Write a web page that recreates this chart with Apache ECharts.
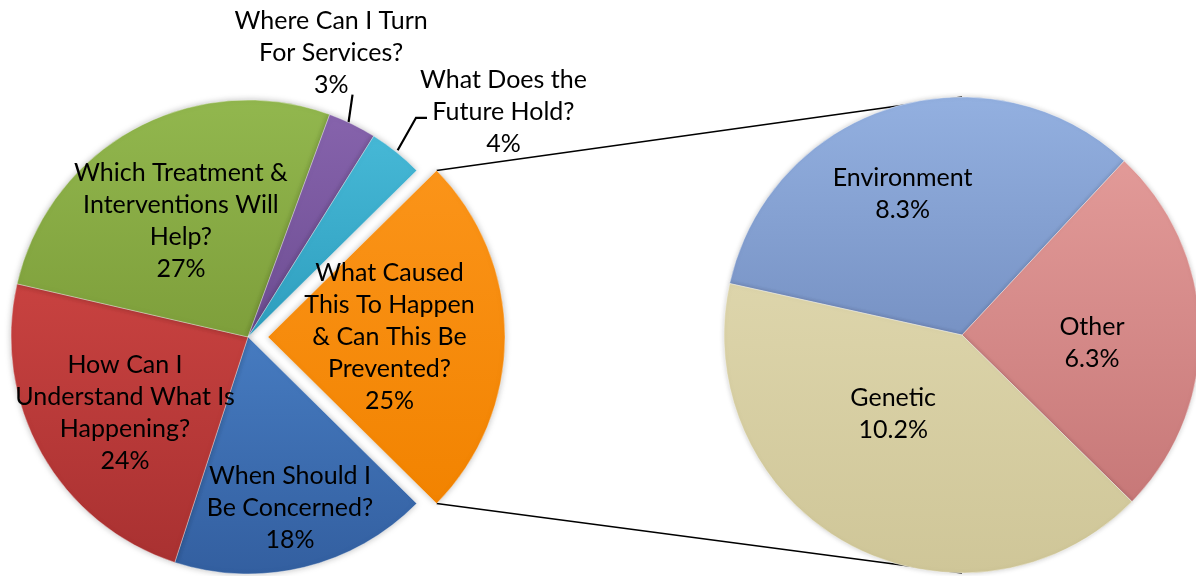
<!DOCTYPE html>
<html><head><meta charset="utf-8">
<script src="https://cdn.jsdelivr.net/npm/echarts@6/dist/echarts.min.js"></script>
<style>html,body{margin:0;padding:0;background:#fff}#c{width:1196px;height:576px}</style>
</head><body><div id="c"></div>
<script>
// ---- data ----
const mainCategories = [
  'What Caused\nThis To Happen\n& Can This Be\nPrevented?',
  'When Should I\nBe Concerned?',
  'How Can I\nUnderstand What Is\nHappening?',
  'Which Treatment &\nInterventions Will\nHelp?',
  'Where Can I Turn\nFor Services?',
  'What Does the\nFuture Hold?'
];
const mainValues = [24.8, 17.6, 23.6, 27.0, 3.3, 3.7];
const subCategories = ['Environment', 'Other', 'Genetic'];
const subValues = [8.3, 6.3, 10.2];

// ---- styling / layout ----
const FONT = 'Lato, "Open Sans", sans-serif';
const L = { cx: 248, cy: 337, r: 237, explode: 20 };
const R = { cx: 962, cy: 335, r: 238, start: 167.5 };
const mainColors = [
  ['#FB9419', '#F28300'], ['#467BC0', '#335FA0'], ['#C84240', '#A93131'],
  ['#92B74E', '#7E9F3B'], ['#8663AC', '#6D4D92'], ['#46B8D6', '#2E9EBE']
];
const subColors = [['#93B0E0', '#7792C4'], ['#E29A98', '#C77878'], ['#DDD5AB', '#CFC698']];
// label placement: [angle shift from slice middle (deg), distance as fraction of radius]
const mainLabelPlace = [[-3.3, 0.59], [0.1, 0.743], [2.2, 0.61], [1.5, 0.567], [9.8, 1.25], [-9.9, 1.437]];
const subLabelPlace = [[5.5, 0.645], [-4.6, 0.547], [-12.6, 0.44]];
const outsideIdx = [4, 5];

function sum(a) { return a.reduce((s, v) => s + v, 0); }
const mainStart = mainValues[0] / sum(mainValues) * 180;
function midAngle(vals, start, i) {
  const t = sum(vals); let a = start;
  for (let k = 0; k < i; k++) a -= vals[k] / t * 360;
  return a - vals[i] / t * 180;
}
function polar(cx, cy, ang, d) {
  const rad = ang * Math.PI / 180;
  return [cx + d * Math.cos(rad), cy - d * Math.sin(rad)];
}
function grad(c) {
  return { type: 'linear', x: 0, y: 0, x2: 0, y2: 1, colorStops: [{ offset: 0, color: c[0] }, { offset: 1, color: c[1] }] };
}
const labelBase = { color: '#000', fontFamily: FONT, fontSize: 25, lineHeight: 32, align: 'center' };
const leaderStyle = { color: '#000', width: 2.2 };

const chart = echarts.init(document.getElementById('c'), null, { renderer: 'canvas' });

const mainData = mainCategories.map((n, i) => {
  const d = { name: n, value: mainValues[i], itemStyle: { color: grad(mainColors[i]) } };
  if (i === 0) d.selected = true;
  if (outsideIdx.includes(i)) {
    d.label = { position: 'outside' };
    d.labelLine = { show: true, length: 10, length2: 10, lineStyle: leaderStyle };
  }
  return d;
});
const subData = subCategories.map((n, i) => ({ name: n, value: subValues[i], itemStyle: { color: grad(subColors[i]) } }));

// connector lines from exploded slice corners to second pie top/bottom
const exC = polar(L.cx, L.cy, 0, L.explode);
const topCorner = polar(exC[0], exC[1], mainStart, L.r);
const botCorner = polar(exC[0], exC[1], -mainStart, L.r);

chart.setOption({
  animation: false,
  backgroundColor: '#fff',
  graphic: [
    { type: 'line', z: 1, shape: { x1: topCorner[0], y1: topCorner[1], x2: R.cx, y2: R.cy - R.r }, style: { stroke: '#000', lineWidth: 1.6 } },
    { type: 'line', z: 1, shape: { x1: botCorner[0], y1: botCorner[1], x2: R.cx, y2: R.cy + R.r }, style: { stroke: '#000', lineWidth: 1.6 } }
  ],
  series: [
    {
      type: 'pie', z: 3,
      center: [L.cx, L.cy], radius: L.r,
      startAngle: mainStart, clockwise: true,
      selectedMode: 'single', selectedOffset: L.explode,
      avoidLabelOverlap: false,
      itemStyle: { borderColor: 'rgba(255,255,255,0.35)', borderWidth: 1, shadowBlur: 6, shadowColor: 'rgba(0,0,0,0.25)' },
      emphasis: { disabled: true },
      label: Object.assign({ position: 'inside', formatter: p => p.name + '\n' + Math.round(p.percent) + '%' }, labelBase),
      labelLine: { show: false, lineStyle: leaderStyle },
      labelLayout: function (p) {
        const i = p.dataIndex;
        const m = midAngle(mainValues, mainStart, i);
        const c = i === 0 ? exC : [L.cx, L.cy];
        const pos = polar(c[0], c[1], m + mainLabelPlace[i][0], L.r * mainLabelPlace[i][1]);
        const out = { x: pos[0], y: pos[1], align: 'center', verticalAlign: 'middle' };
        const w = p.labelRect.width, h = p.labelRect.height;
        if (i === 4) {
          const e = polar(L.cx, L.cy, m + 1, L.r);
          const end = [e[0] + 4, pos[1] + h / 2 - 6];
          out.labelLinePoints = [e, end, end];
        } else if (i === 5) {
          const e = polar(L.cx, L.cy, m, L.r * 1.01);
          const yL = pos[1] + 6;
          const xL = pos[0] - w / 2 + 7;
          out.labelLinePoints = [e, [xL - 11, yL], [xL, yL]];
        }
        return out;
      },
      data: mainData
    },
    {
      type: 'pie', z: 3,
      center: [R.cx, R.cy], radius: R.r,
      startAngle: R.start, clockwise: true,
      avoidLabelOverlap: false,
      itemStyle: { borderColor: 'rgba(255,255,255,0.4)', borderWidth: 1, shadowBlur: 5, shadowColor: 'rgba(0,0,0,0.2)' },
      emphasis: { disabled: true },
      label: Object.assign({ position: 'inside', formatter: p => p.name + '\n' + p.value.toFixed(1) + '%' }, labelBase),
      labelLine: { show: false },
      labelLayout: function (p) {
        const i = p.dataIndex;
        const m = midAngle(subValues, R.start, i);
        const pos = polar(R.cx, R.cy, m + subLabelPlace[i][0], R.r * subLabelPlace[i][1]);
        return { x: pos[0], y: pos[1], align: 'center', verticalAlign: 'middle' };
      },
      data: subData
    }
  ]
});
</script>
</body></html>
